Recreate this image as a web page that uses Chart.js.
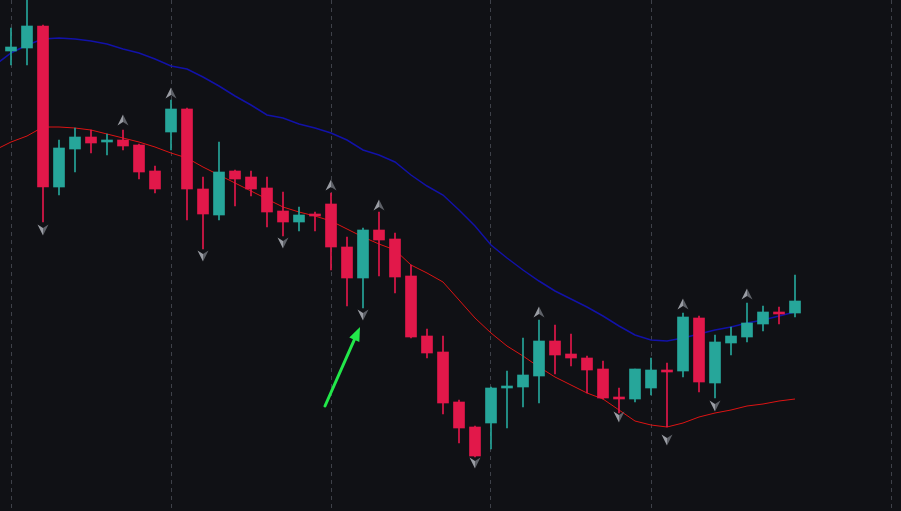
<!DOCTYPE HTML>
<html>
<head>
    <meta charset="utf-8" />
    <title>Candles with fractals</title>
    <script src="https://cdn.jsdelivr.net/npm/chart.js@4.4.0/dist/chart.umd.min.js"></script>
    <style type="text/css">
        html, body {
            margin: 0;
            padding: 0;
            background: #101115;
        }
        #wrap {
            width: 901px;
            height: 511px;
            position: relative;
        }
    </style>
</head>
<body>
    <div id="wrap"><canvas id="chartCandles"></canvas></div>

    <script>
        // one candle per bar, index 0..49
        var opens  = [1.0949, 1.0952, 1.0974, 1.0813, 1.0851, 1.0863, 1.0858, 1.0860, 1.0855, 1.0829,
                      1.0868, 1.0891, 1.0811, 1.0785, 1.0829, 1.0823, 1.0812, 1.0789, 1.0778, 1.0786,
                      1.0796, 1.0753, 1.0722, 1.0770, 1.0761, 1.0724, 1.0664, 1.0648, 1.0598, 1.0573,
                      1.0577, 1.0612, 1.0613, 1.0624, 1.0659, 1.0646, 1.0642, 1.0631, 1.0603, 1.0601,
                      1.0612, 1.0630, 1.0629, 1.0682, 1.0617, 1.0657, 1.0663, 1.0676, 1.0688, 1.0687];
        var highs  = [1.0972, 1.1002, 1.0975, 1.0860, 1.0872, 1.0870, 1.0866, 1.0870, 1.0856, 1.0834,
                      1.0900, 1.0892, 1.0823, 1.0858, 1.0830, 1.0829, 1.0823, 1.0808, 1.0793, 1.0788,
                      1.0807, 1.0763, 1.0772, 1.0788, 1.0767, 1.0735, 1.0671, 1.0664, 1.0600, 1.0574,
                      1.0613, 1.0629, 1.0662, 1.0680, 1.0675, 1.0666, 1.0644, 1.0639, 1.0612, 1.0631,
                      1.0642, 1.0637, 1.0687, 1.0684, 1.0665, 1.0673, 1.0697, 1.0694, 1.0693, 1.0725];
        var lows   = [1.0935, 1.0935, 1.0778, 1.0805, 1.0828, 1.0847, 1.0845, 1.0850, 1.0821, 1.0807,
                      1.0850, 1.0780, 1.0751, 1.0780, 1.0794, 1.0804, 1.0773, 1.0764, 1.0769, 1.0769,
                      1.0730, 1.0694, 1.0692, 1.0724, 1.0707, 1.0662, 1.0642, 1.0586, 1.0557, 1.0543,
                      1.0551, 1.0572, 1.0593, 1.0597, 1.0626, 1.0634, 1.0607, 1.0601, 1.0587, 1.0598,
                      1.0605, 1.0573, 1.0623, 1.0608, 1.0602, 1.0645, 1.0658, 1.0669, 1.0676, 1.0683];
        var closes = [1.0953, 1.0974, 1.0813, 1.0852, 1.0863, 1.0857, 1.0860, 1.0854, 1.0828, 1.0811,
                      1.0891, 1.0811, 1.0786, 1.0828, 1.0821, 1.0811, 1.0788, 1.0778, 1.0785, 1.0784,
                      1.0753, 1.0722, 1.0770, 1.0760, 1.0723, 1.0663, 1.0647, 1.0597, 1.0572, 1.0544,
                      1.0612, 1.0614, 1.0625, 1.0659, 1.0645, 1.0642, 1.0630, 1.0602, 1.0601, 1.0631,
                      1.0630, 1.0628, 1.0683, 1.0618, 1.0658, 1.0664, 1.0677, 1.0688, 1.0686, 1.0699];

        // moving averages, first value sits at index -1 (just off the left edge)
        var maStart = -1;
        var maSlow = [1.0935, 1.0947, 1.0955, 1.0961, 1.0962, 1.0961, 1.0959, 1.0956, 1.0951, 1.0947, 1.0941,
                      1.0934, 1.0931, 1.0923, 1.0914, 1.0904, 1.0895, 1.0885, 1.0882, 1.0876, 1.0872,
                      1.0867, 1.0860, 1.0850, 1.0845, 1.0838, 1.0825, 1.0814, 1.0805, 1.0790, 1.0774,
                      1.0755, 1.0742, 1.0730, 1.0719, 1.0709, 1.0701, 1.0693, 1.0684, 1.0674, 1.0665,
                      1.0660, 1.0659, 1.0662, 1.0666, 1.0670, 1.0673, 1.0677, 1.0680, 1.0684, 1.0688];
        var maFast = [1.0850, 1.0858, 1.0864, 1.0873, 1.0873, 1.0872, 1.0870, 1.0866, 1.0862, 1.0858, 1.0853,
                      1.0847, 1.0842, 1.0833, 1.0825, 1.0817, 1.0809, 1.0801, 1.0793, 1.0788, 1.0784,
                      1.0779, 1.0771, 1.0763, 1.0756, 1.0750, 1.0735, 1.0727, 1.0718, 1.0700, 1.0682,
                      1.0667, 1.0654, 1.0644, 1.0633, 1.0623, 1.0615, 1.0607, 1.0601, 1.0590, 1.0579,
                      1.0575, 1.0573, 1.0577, 1.0583, 1.0587, 1.0590, 1.0594, 1.0596, 1.0599, 1.0601];

        // fractal markers: bar index and marker price
        var fractalUpIdx    = [7, 10, 20, 23, 33, 42, 46];
        var fractalUpVal    = [1.0880, 1.0907, 1.0815, 1.0795, 1.0688, 1.0696, 1.0706];
        var fractalDownIdx  = [2, 12, 17, 22, 29, 38, 41, 44];
        var fractalDownVal  = [1.0770, 1.0744, 1.0757, 1.0685, 1.0537, 1.0583, 1.0560, 1.0594];

        // session separators and the green pointer
        var gridTicks = [0, 10, 20, 30, 40, 55];
        var arrowFrom = { x: 19.625, y: 1.0594 };
        var arrowTo   = { x: 21.8125, y: 1.0673 };

        var upColor = '#26a69a';
        var downColor = '#e2184a';

        var bodies = [], wicks = [], colors = [];
        for (var i = 0; i < opens.length; i++) {
            bodies.push({ x: i, y: [opens[i], closes[i]] });
            wicks.push({ x: i, y: [lows[i], highs[i]] });
            colors.push(closes[i] >= opens[i] ? upColor : downColor);
        }

        var slowPts = [], fastPts = [];
        for (var j = 0; j < maSlow.length; j++) {
            slowPts.push({ x: maStart + j, y: maSlow[j] });
            fastPts.push({ x: maStart + j, y: maFast[j] });
        }

        var upPts = fractalUpIdx.map(function (k, n) { return { x: k, y: fractalUpVal[n] }; });
        var downPts = fractalDownIdx.map(function (k, n) { return { x: k, y: fractalDownVal[n] }; });

        function arrowImage(pointUp) {
            var c = document.createElement('canvas');
            c.width = 12; c.height = 12;
            var g = c.getContext('2d');
            if (!pointUp) { g.translate(0, 12); g.scale(1, -1); }
            g.beginPath();
            g.moveTo(6, 0.5); g.lineTo(11.5, 11.5); g.lineTo(6, 8); g.closePath();
            g.fillStyle = '#5f6269';
            g.fill();
            g.beginPath();
            g.moveTo(6, 0.5); g.lineTo(0.5, 11.5); g.lineTo(6, 8); g.closePath();
            g.fillStyle = '#9a9da4';
            g.fill();
            return c;
        }

        var pointerPlugin = {
            id: 'pointer',
            afterDatasetsDraw: function (chart) {
                var ctx = chart.ctx, sx = chart.scales.x, sy = chart.scales.y;
                var x1 = sx.getPixelForValue(arrowFrom.x), y1 = sy.getPixelForValue(arrowFrom.y);
                var x2 = sx.getPixelForValue(arrowTo.x), y2 = sy.getPixelForValue(arrowTo.y);
                var ang = Math.atan2(y2 - y1, x2 - x1);
                var head = 14, half = 5.5;
                var bx = x2 - head * Math.cos(ang), by = y2 - head * Math.sin(ang);
                ctx.save();
                ctx.strokeStyle = '#22e84a';
                ctx.fillStyle = '#22e84a';
                ctx.lineWidth = 3;
                ctx.lineCap = 'round';
                ctx.beginPath();
                ctx.moveTo(x1, y1);
                ctx.lineTo(bx + 2 * Math.cos(ang), by + 2 * Math.sin(ang));
                ctx.stroke();
                ctx.beginPath();
                ctx.moveTo(x2, y2);
                ctx.lineTo(bx + half * Math.sin(ang), by - half * Math.cos(ang));
                ctx.lineTo(bx - half * Math.sin(ang), by + half * Math.cos(ang));
                ctx.closePath();
                ctx.fill();
                ctx.restore();
            }
        };

        var ctx = document.getElementById('chartCandles').getContext('2d');
        var myChart = new Chart(ctx, {
            type: 'bar',
            data: {
                datasets: [{
                    label: 'body',
                    data: bodies,
                    backgroundColor: colors,
                    barThickness: 11,
                    grouped: false,
                    order: 1
                },
                {
                    label: 'wick',
                    data: wicks,
                    backgroundColor: colors,
                    barThickness: 1,
                    grouped: false,
                    order: 2
                },
                {
                    type: 'line',
                    label: 'slow',
                    data: slowPts,
                    borderColor: '#1212a8',
                    borderWidth: 1.5,
                    pointRadius: 0,
                    fill: false,
                    order: 3
                },
                {
                    type: 'line',
                    label: 'fast',
                    data: fastPts,
                    borderColor: '#dc1414',
                    borderWidth: 1,
                    pointRadius: 0,
                    fill: false,
                    order: 3
                },
                {
                    type: 'scatter',
                    label: 'fractal up',
                    data: upPts,
                    pointStyle: arrowImage(true),
                    order: 0
                },
                {
                    type: 'scatter',
                    label: 'fractal down',
                    data: downPts,
                    pointStyle: arrowImage(false),
                    order: 0
                }]
            },
            options: {
                responsive: true,
                maintainAspectRatio: false,
                animation: false,
                layout: { padding: 0, autoPadding: false },
                plugins: {
                    legend: { display: false },
                    tooltip: { enabled: false }
                },
                scales: {
                    x: {
                        type: 'linear',
                        offset: false,
                        min: -0.6875,
                        max: 55.625,
                        afterBuildTicks: function (axis) {
                            axis.ticks = gridTicks.map(function (v) { return { value: v }; });
                        },
                        ticks: { display: false },
                        grid: {
                            offset: false,
                            color: '#3e4149',
                            lineWidth: 1,
                            drawTicks: false
                        },
                        border: { display: false, dash: [4, 4] }
                    },
                    y: {
                        display: false,
                        min: 1.0489,
                        max: 1.1
                    }
                }
            },
            plugins: [pointerPlugin]
        });
    </script>
</body>
</html>
